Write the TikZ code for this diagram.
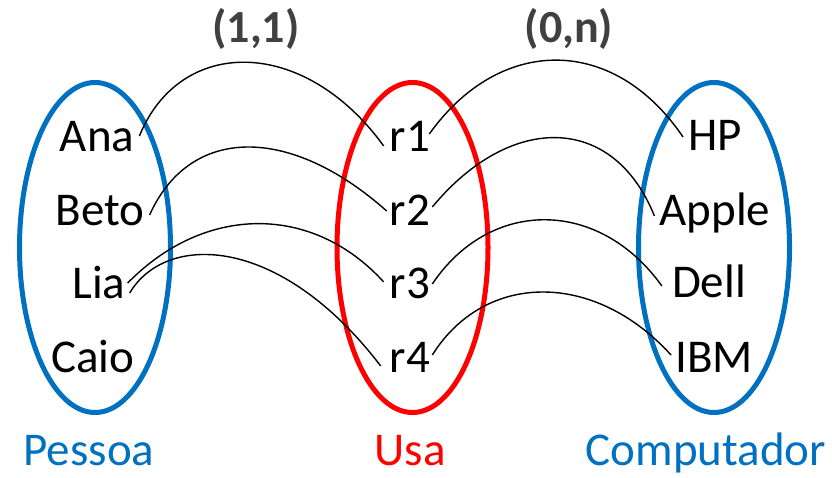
\documentclass[tikz,border=0pt]{standalone}
\usepackage{fontspec}
\setmainfont{Carlito}
\usetikzlibrary{shapes.geometric}
\definecolor{setblue}{HTML}{0070C0}
\definecolor{setred}{HTML}{FF0000}
\definecolor{cardgray}{HTML}{404040}
\tikzset{
  setshape/.style={ellipse, draw, line width=5pt, inner sep=0pt, minimum width=151pt, minimum height=330pt},
  elem/.style={inner sep=0pt, anchor=base, font=\fontsize{47}{52}\selectfont},
  setlabel/.style={inner sep=0pt, anchor=base, font=\fontsize{47}{52}\selectfont},
  card/.style={inner sep=0pt, anchor=base, text=cardgray, font=\fontsize{46}{52}\selectfont\bfseries},
  link/.style={line width=1.4pt, black}
}
\begin{document}
\begin{tikzpicture}[x=1pt,y=-1pt]
\useasboundingbox (0,0) rectangle (832,477);
% sets
\node[setshape, setblue] (pessoaSet) at (95,247.5) {};
\node[setshape, setred] (usaSet) at (412.5,247.5) {};
\node[setshape, setblue] (compSet) at (714,247.5) {};
% elements
\node[elem] (ana) at (97,151) {Ana};
\node[elem] (beto) at (100,225) {Beto};
\node[elem] (lia) at (99,298) {Lia};
\node[elem] (caio) at (93,372) {Caio};
\node[elem] (r1) at (410,151) {r1};
\node[elem] (r2) at (410,225) {r2};
\node[elem] (r3) at (410,298) {r3};
\node[elem] (r4) at (410,372) {r4};
\node[elem] (hp) at (715,150) {HP};
\node[elem] (apple) at (715,225) {Apple};
\node[elem] (dell) at (709,297) {Dell};
\node[elem] (ibm) at (714,372) {IBM};
% labels
\node[setlabel, text=setblue] (lpessoa) at (89,465) {Pessoa};
\node[setlabel, text=setred] (lusa) at (410,465) {Usa};
\node[setlabel, text=setblue] (lcomp) at (706,465) {Computador};
\node[card] (c11) at (256,42) {(1,1)};
\node[card] (c0n) at (569,42) {(0,n)};
% links Pessoa - Usa
\draw[link] ([xshift=5pt,yshift=15pt]ana.base east) .. controls (180,36) and (304,36) .. ([xshift=-6pt,yshift=5pt]r1.base west);
\draw[link] ([xshift=5pt,yshift=10pt]beto.base east) .. controls (190,125) and (290,125) .. ([xshift=-3pt,yshift=14pt]r2.base west);
\draw[link] ([xshift=2pt,yshift=15pt]lia.base east) .. controls (205,204) and (313,204) .. ([xshift=-6pt,yshift=16pt]r3.base west);
\draw[link] ([xshift=4pt,yshift=5pt]lia.base east) .. controls (165,233) and (279,233) .. ([xshift=-9pt,yshift=6pt]r4.base west);
% links Usa - Computador
\draw[link] ([xshift=-1pt,yshift=17pt]r1.base east) .. controls (500,35) and (614,35) .. ([xshift=-5pt,yshift=13pt]hp.base west);
\draw[link] ([xshift=2pt,yshift=18pt]r2.base east) .. controls (510,113) and (613,113) .. ([xshift=-5pt,yshift=9pt]apple.base west);
\draw[link] ([xshift=2pt,yshift=14pt]r3.base east) .. controls (490,198) and (599,198) .. ([xshift=-10pt,yshift=11pt]dell.base west);
\draw[link] ([xshift=2pt,yshift=17pt]r4.base east) .. controls (485,271) and (595,271) .. ([xshift=-4pt,yshift=17pt]ibm.base west);
\end{tikzpicture}
\end{document}
